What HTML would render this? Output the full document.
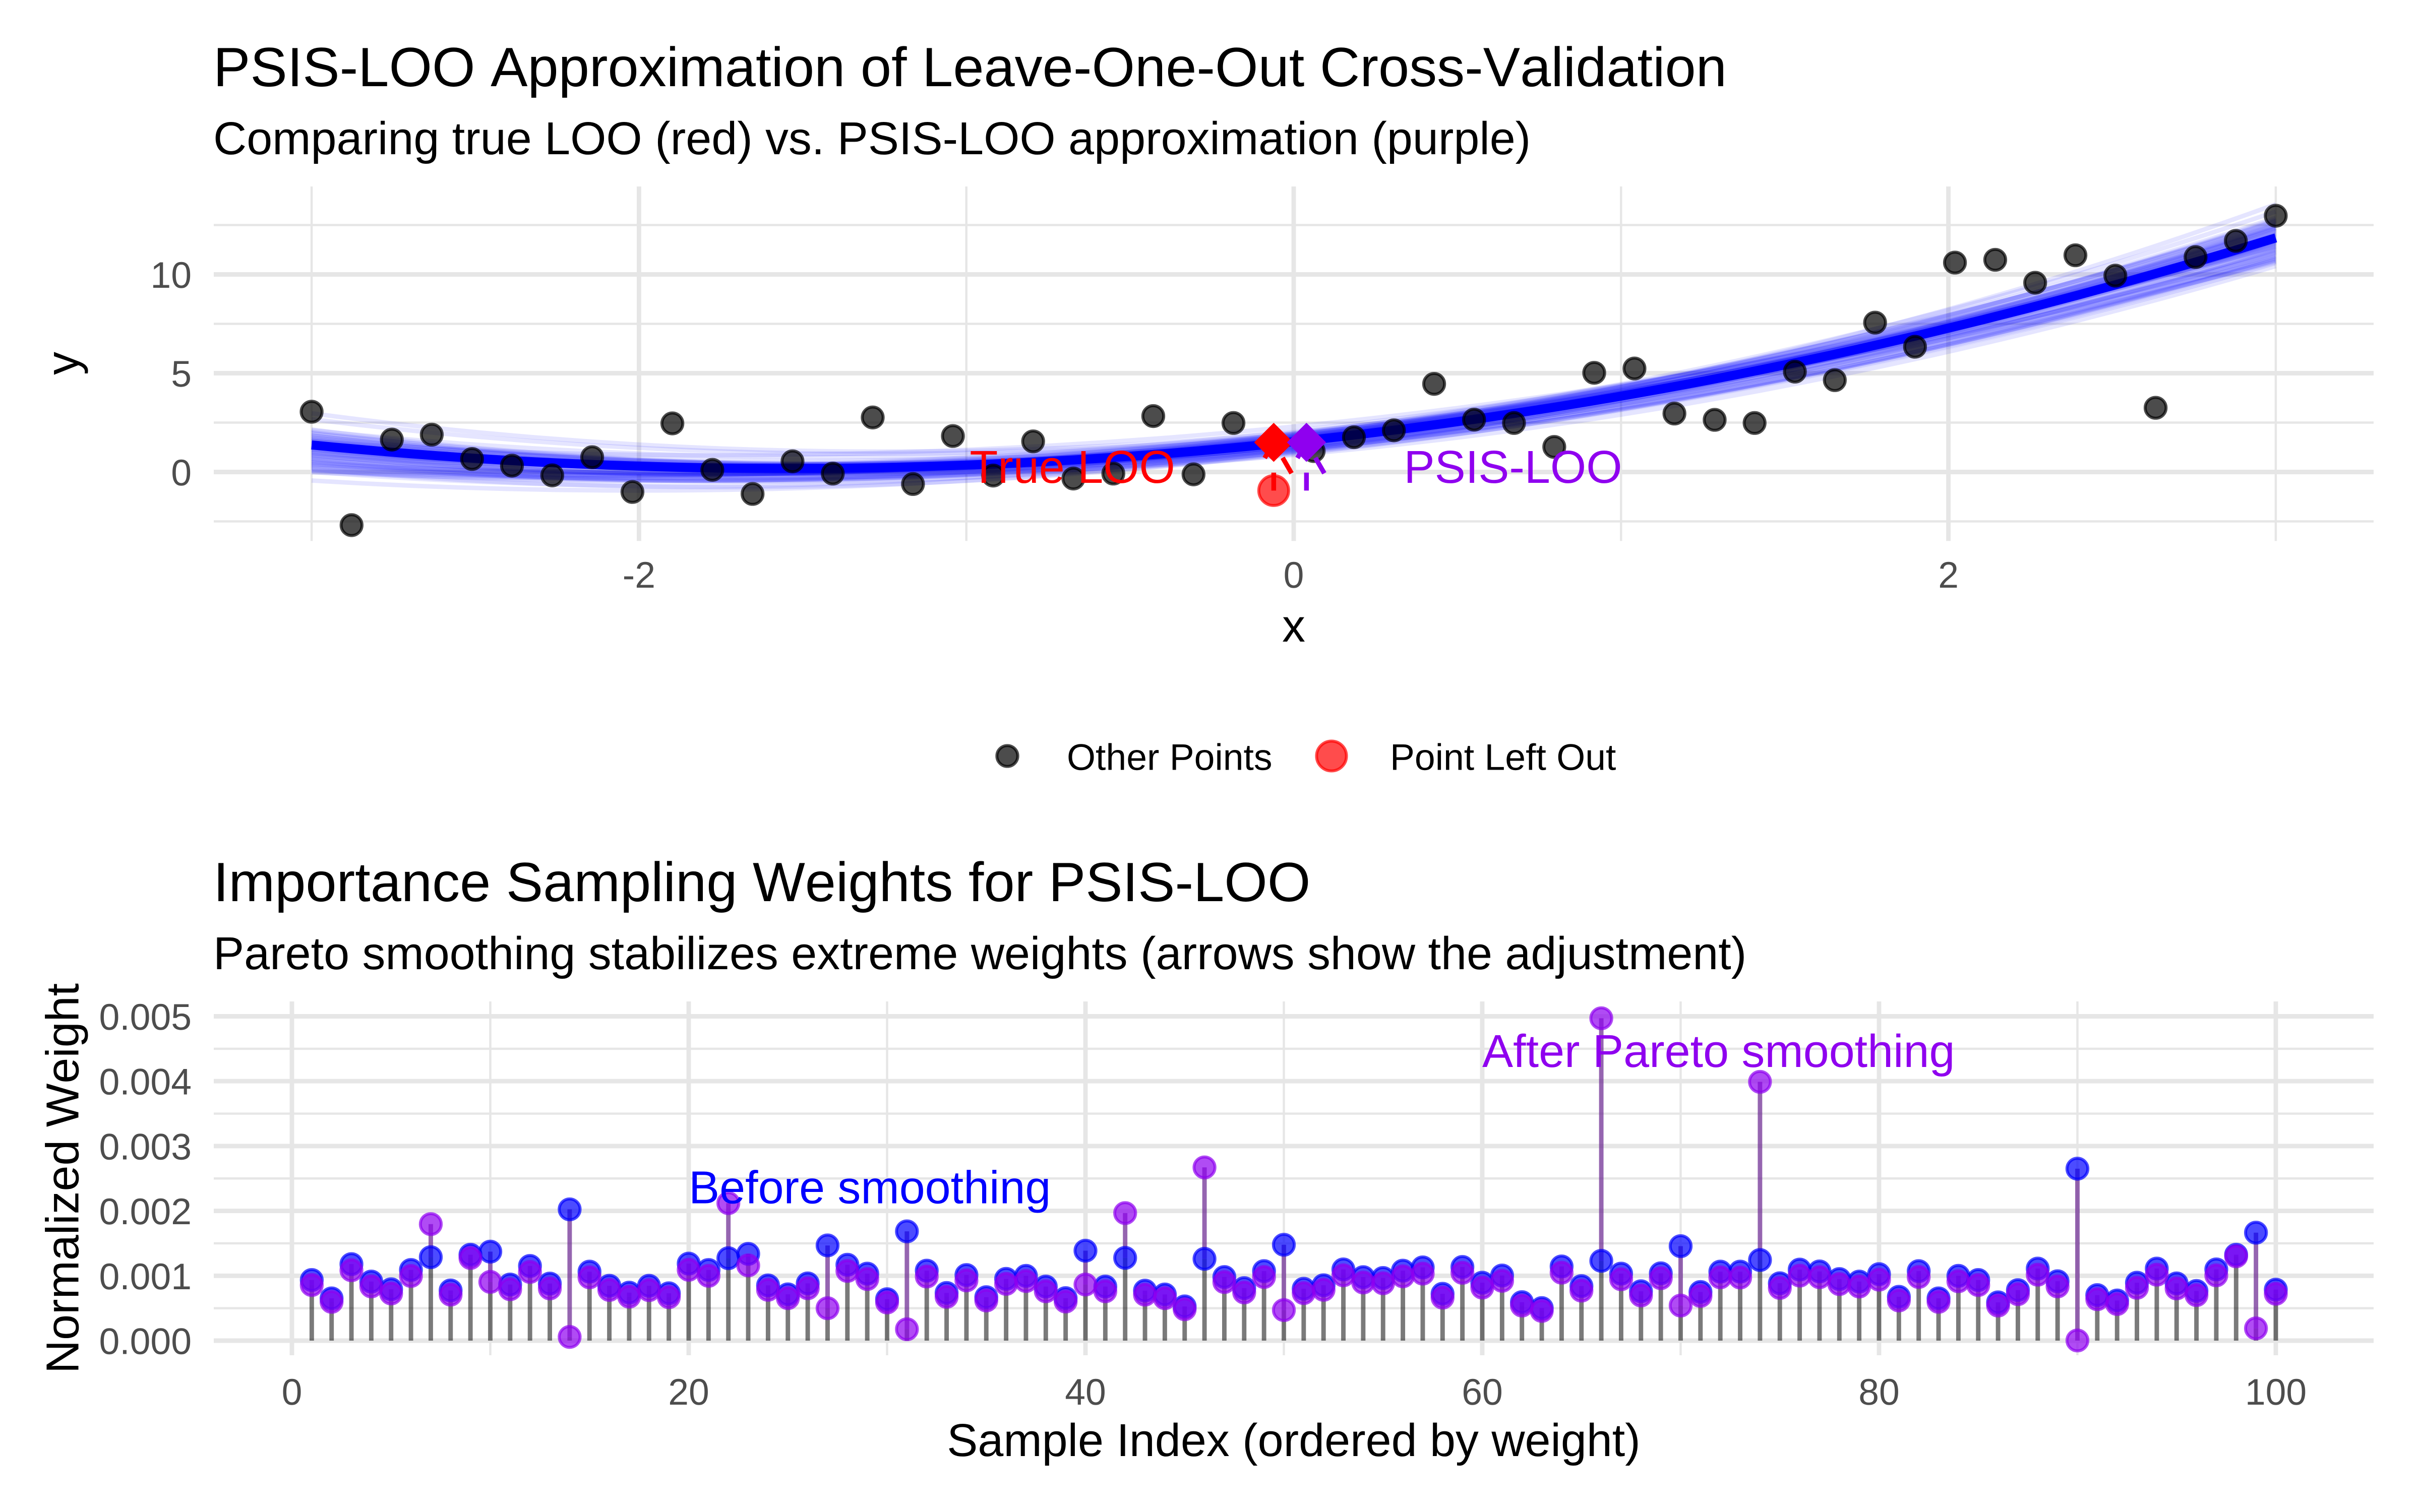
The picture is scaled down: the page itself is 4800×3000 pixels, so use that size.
<!DOCTYPE html>
<html lang="en">
<head>
<meta charset="utf-8">
<title>PSIS-LOO Approximation</title>
<style>
html,body{margin:0;padding:0;background:#fff;}
svg{display:block;}
text{font-family:"Liberation Sans",Arial,sans-serif;font-kerning:none;text-rendering:geometricPrecision;}
</style>
</head>
<body>
<svg id="chart" xmlns="http://www.w3.org/2000/svg" width="4800" height="3000" viewBox="0 0 4800 3000">
  <rect x="0" y="0" width="4800" height="3000" fill="#ffffff"/>
  <g id="top-grid"></g>
  <g id="top-draws"></g>
  <g id="top-fit"></g>
  <g id="top-points"></g>
  <g id="top-marks"></g>
  <g id="top-axes"></g>
  <g id="bot-grid"></g>
  <g id="bot-stems"></g>
  <g id="bot-blue"></g>
  <g id="bot-purple"></g>
  <g id="bot-axes"></g>

  <text x="423" y="171" font-size="110" fill="#000">PSIS-LOO Approximation of Leave-One-Out Cross-Validation</text>
  <text x="423" y="306" font-size="91.67" fill="#000">Comparing true LOO (red) vs. PSIS-LOO approximation (purple)</text>
  <text x="2566" y="1273" font-size="91.67" text-anchor="middle" fill="#000">x</text>
  <text transform="translate(155.6 721) rotate(-90)" font-size="91.67" text-anchor="middle" fill="#000">y</text>

  <g>
    <circle cx="1998" cy="1500" r="20.7" fill="#000" fill-opacity="0.7" stroke="#000" stroke-opacity="0.7" stroke-width="5.9"/>
    <text x="2116" y="1527.6" font-size="73.33" fill="#000">Other Points</text>
    <circle cx="2641" cy="1500" r="29.6" fill="#ff0000" fill-opacity="0.7" stroke="#ff0000" stroke-opacity="0.7" stroke-width="5.9"/>
    <text x="2757" y="1527.6" font-size="73.33" fill="#000">Point Left Out</text>
  </g>

  <text x="423" y="1788" font-size="110" fill="#000">Importance Sampling Weights for PSIS-LOO</text>
  <text x="423" y="1923" font-size="91.67" fill="#000">Pareto smoothing stabilizes extreme weights (arrows show the adjustment)</text>
  <text x="2566" y="2889" font-size="91.67" text-anchor="middle" fill="#000">Sample Index (ordered by weight)</text>
  <text transform="translate(155.6 2338) rotate(-90)" font-size="91.67" text-anchor="middle" fill="#000">Normalized Weight</text>
  <g id="annotations"></g>
</svg>
<script>
// ---- top panel data ----
const pointX = [-3,-2.878,-2.755,-2.633,-2.51,-2.388,-2.265,-2.143,-2.02,-1.898,-1.776,-1.653,-1.531,-1.408,-1.286,-1.163,-1.041,-0.918,-0.796,-0.673,-0.551,-0.429,-0.306,-0.184,-0.061,0.061,0.184,0.306,0.429,0.551,0.673,0.796,0.918,1.041,1.163,1.286,1.408,1.531,1.653,1.776,1.898,2.02,2.143,2.265,2.388,2.51,2.633,2.755,2.878,3];
const pointY = [3.05,-2.69,1.64,1.89,0.66,0.32,-0.17,0.75,-1.01,2.46,0.11,-1.11,0.54,-0.08,2.76,-0.61,1.82,-0.18,1.55,-0.33,-0.08,2.83,-0.12,2.48,-0.94,1.06,1.76,2.11,4.46,2.65,2.48,1.27,5.02,5.24,2.96,2.64,2.48,5.08,4.65,7.56,6.34,10.6,10.74,9.58,10.97,9.94,3.25,10.88,11.7,12.97];
const leftOutIndex = [24];
const fitAnchors = [1.37,1.53,11.85];
const drawLeft = [2.97,2.67,2.15,2.11,2.02,1.96,1.93,1.85,1.84,1.76,1.73,1.71,1.64,1.62,1.57,1.55,1.49,1.47,1.46,1.41,1.39,1.36,1.33,1.31,1.27,1.24,1.21,1.17,1.14,1.13,1.08,1.05,1.01,0.97,0.95,0.89,0.86,0.84,0.78,0.76,0.69,0.66,0.63,0.57,0.55,0.49,0.47,0.41,0.39,0.33,0.31,0.24,0.21,0.15,0.09,0.06,0.01,-0.02,-0.43,1.59];
const drawMid = [2.02,1.93,1.71,1.82,1.24,1.96,1.41,1.68,1.16,1.88,1.52,1.3,1.77,1.09,1.61,2.3,1.44,1.85,1.27,1.58,1.73,1.12,1.66,1.49,1.94,1.35,1.02,1.57,1.79,1.21,1.63,1.46,0.96,1.9,1.38,1.7,1.18,1.54,2.08,1.31,1.6,1.05,1.75,1.42,0.91,1.67,1.28,1.83,1.5,1.14,1.72,1.36,1.59,1.0,1.45,1.86,1.23,1.65,1.08,0.86];
const drawRight = [12.46,12.03,13.55,11.24,10.92,13.18,11.7,12.31,10.83,12.87,11.15,11.52,12.55,10.66,11.96,11.4,12.2,12.72,11.08,11.78,12.39,10.75,12.1,11.33,12.62,11.6,10.58,11.88,12.28,11.19,11.66,12.15,10.88,11.47,12.48,11.02,11.85,12.37,11.73,10.71,12.06,11.28,12.68,11.56,10.95,11.92,12.24,11.37,12.79,11.11,11.62,12.01,10.64,12.33,11.82,11.43,12.52,10.8,11.68,10.42];
const trueLooX = [-0.061];
const psisLooX = [0.039];
const looEstimateY = [1.5];
const topXTicks = [-2,0,2];
const topXTickLabels = ['-2','0','2'];
const topXMinor = [-3,-1,1,3];
const topYTicks = [0,5,10];
const topYTickLabels = ['0','5','10'];
const topYMinor = [-2.5,2.5,7.5,12.5];

// ---- bottom panel data (weights in units of 0.001) ----
const sampleIndex = [1,2,3,4,5,6,7,8,9,10,11,12,13,14,15,16,17,18,19,20,21,22,23,24,25,26,27,28,29,30,31,32,33,34,35,36,37,38,39,40,41,42,43,44,45,46,47,48,49,50,51,52,53,54,55,56,57,58,59,60,61,62,63,64,65,66,67,68,69,70,71,72,73,74,75,76,77,78,79,80,81,82,83,84,85,86,87,88,89,90,91,92,93,94,95,96,97,98,99,100];
const weightBeforeMilli = [0.935,0.652,1.18,0.911,0.792,1.09,1.287,0.774,1.325,1.372,0.865,1.152,0.88,2.024,1.064,0.846,0.74,0.846,0.73,1.188,1.09,1.271,1.338,0.852,0.714,0.883,1.468,1.17,1.033,0.639,1.685,1.079,0.735,1.012,0.67,0.953,0.999,0.834,0.655,1.387,0.834,1.276,0.771,0.712,0.528,1.261,0.981,0.81,1.072,1.478,0.8,0.854,1.098,0.979,0.966,1.079,1.129,0.722,1.136,0.893,1.004,0.593,0.502,1.144,0.841,1.23,1.033,0.761,1.038,1.457,0.751,1.064,1.064,1.243,0.885,1.095,1.067,0.95,0.911,1.025,0.676,1.072,0.652,0.999,0.935,0.59,0.779,1.111,0.916,2.651,0.702,0.619,0.893,1.111,0.883,0.766,1.098,1.325,1.665,0.787];
const weightAfterMilli = [0.857,0.598,1.085,0.836,0.727,0.997,1.797,0.709,1.274,0.906,0.792,1.059,0.805,0.057,0.976,0.782,0.678,0.779,0.67,1.092,0.999,2.12,1.16,0.784,0.655,0.808,0.5,1.074,0.95,0.588,0.176,0.989,0.676,0.929,0.619,0.875,0.919,0.761,0.603,0.865,0.761,1.967,0.709,0.655,0.484,2.671,0.903,0.743,0.981,0.471,0.733,0.784,1.007,0.896,0.885,0.991,1.033,0.663,1.046,0.818,0.922,0.541,0.458,1.048,0.771,4.97,0.947,0.696,0.963,0.541,0.689,0.976,0.973,3.99,0.813,1.002,0.978,0.872,0.834,0.94,0.619,0.981,0.598,0.916,0.857,0.541,0.717,1.017,0.836,0.003,0.639,0.564,0.815,1.017,0.805,0.702,1.007,1.3,0.189,0.722];
const botXTicks = [0,20,40,60,80,100];
const botXTickLabels = ['0','20','40','60','80','100'];
const botXMinor = [10,30,50,70,90];
const botYTicks = [0,1,2,3,4,5];
const botYTickLabels = ['0.000','0.001','0.002','0.003','0.004','0.005'];
const botYMinor = [0.5,1.5,2.5,3.5,4.5];

// ---- axis functions ----
const topX = v => 2566 + v * 649.3;
const topY = v => 936.5 - v * 39.2;
const botX = v => 579 + v * 39.35;
const botY = v => 2660 - v * 128.7;

const PANEL_L = 424, PANEL_R = 4708;
const TOP_T = 370, TOP_B = 1073.4, BOT_T = 1987, BOT_B = 2689;
const MAJOR = 8.9, MINOR = 4.45, GRID = '#e6e6e6';
const PURPLE = '#8f00ef';
const SVGNS = 'http://www.w3.org/2000/svg';

function make(tag, attrs, parent) {
  const el = document.createElementNS(SVGNS, tag);
  for (const k in attrs) el.setAttribute(k, attrs[k]);
  parent.appendChild(el);
  return el;
}
const byId = id => document.getElementById(id);

function gridV(parent, values, fx, width, y1, y2) {
  values.forEach(v => {
    const el = make('line', {x1: fx(v), x2: fx(v), y1: y1, y2: y2, stroke: GRID, 'stroke-width': width}, parent);
    
    
  });
}
function gridH(parent, values, fy, width) {
  values.forEach(v => {
    const el = make('line', {x1: PANEL_L, x2: PANEL_R, y1: fy(v), y2: fy(v), stroke: GRID, 'stroke-width': width}, parent);
    
    
  });
}
function tickLabelsX(parent, values, labels, fx, baseline) {
  values.forEach((v, i) => {
    const el = make('text', {x: fx(v), y: baseline, 'font-size': 73.33, 'text-anchor': 'middle', fill: '#4d4d4d'}, parent);
    
    
    el.textContent = labels[i];
  });
}
function tickLabelsY(parent, values, labels, fy) {
  values.forEach((v, i) => {
    const el = make('text', {x: 380, y: fy(v) + 26.5, 'font-size': 73.33, 'text-anchor': 'end', fill: '#4d4d4d'}, parent);
    
    
    el.textContent = labels[i];
  });
}
// parabola through the values read at x = -3, 0 and 3
function curvePath(left, mid, right) {
  const b = (right - left) / 6;
  const c = ((right + left) / 2 - mid) / 9;
  let d = '';
  for (let k = 0; k <= 80; k++) {
    const x = -3 + 6 * k / 80;
    const y = mid + b * x + c * x * x;
    d += (k ? 'L' : 'M') + topX(x).toFixed(1) + ' ' + topY(y).toFixed(1);
  }
  return d;
}

// ---- top panel ----
gridV(byId('top-grid'), topXMinor, topX, MINOR, TOP_T, TOP_B);
gridH(byId('top-grid'), topYMinor, topY, MINOR);
gridV(byId('top-grid'), topXTicks, topX, MAJOR, TOP_T, TOP_B);
gridH(byId('top-grid'), topYTicks, topY, MAJOR);
tickLabelsX(byId('top-axes'), topXTicks, topXTickLabels, topX, 1166);
tickLabelsY(byId('top-axes'), topYTicks, topYTickLabels, topY);

drawLeft.forEach((left, i) => {
  const el = make('path', {d: curvePath(left, drawMid[i], drawRight[i]), fill: 'none', stroke: '#0000ff', 'stroke-opacity': 0.1, 'stroke-width': 8.9}, byId('top-draws'));
  
  
});

const fitLine = make('path', {d: curvePath(fitAnchors[0], fitAnchors[1], fitAnchors[2]), fill: 'none', stroke: '#0000ff', 'stroke-width': 18}, byId('top-fit'));



pointX.forEach((x, i) => {
  if (leftOutIndex.includes(i)) return;
  const el = make('circle', {cx: topX(x), cy: topY(pointY[i]), r: 20.7, fill: '#000', 'fill-opacity': 0.7, stroke: '#000', 'stroke-opacity': 0.7, 'stroke-width': 5.9}, byId('top-points'));
  
  
});

leftOutIndex.forEach(i => {
  const el = make('circle', {cx: topX(pointX[i]), cy: topY(pointY[i]), r: 29.6, fill: '#ff0000', 'fill-opacity': 0.7, stroke: '#ff0000', 'stroke-opacity': 0.7, 'stroke-width': 5.9}, byId('top-marks'));
  
  
});

function looArrow(xVal, color, name) {
  const px = topX(xVal);
  const from = topY(pointY[leftOutIndex[0]]);
  const to = topY(looEstimateY[0]);
  const g = byId('top-marks');
  const shaft = make('line', {x1: px, y1: from, x2: px, y2: to, stroke: color, 'stroke-width': 9.4, 'stroke-dasharray': '35.6 35.6'}, g);
  
  
  const len = 70.87, dx = len * Math.sin(Math.PI / 6), dy = len * Math.cos(Math.PI / 6);
  const head = make('polyline', {points: (px + dx) + ',' + (to + dy) + ' ' + px + ',' + to + ' ' + (px - dx) + ',' + (to + dy), fill: 'none', stroke: color, 'stroke-width': 9.4, 'stroke-dasharray': '35.6 35.6'}, g);
  
  
}
looArrow(trueLooX[0], '#ff0000', 'true-loo');
looArrow(psisLooX[0], PURPLE, 'psis-loo');

function diamond(xVal, color, name) {
  const cx = topX(xVal), cy = topY(looEstimateY[0]), h = 38.8;
  const el = make('polygon', {points: cx + ',' + (cy - h) + ' ' + (cx + h) + ',' + cy + ' ' + cx + ',' + (cy + h) + ' ' + (cx - h) + ',' + cy, fill: color}, byId('top-marks'));
  
  
}
diamond(trueLooX[0], '#ff0000', 'true-loo-estimate');
diamond(psisLooX[0], PURPLE, 'psis-loo-estimate');

const labelTrue = make('text', {x: topX(-0.676), y: topY(0.27) + 32, 'font-size': 91.67, 'text-anchor': 'middle', fill: '#ff0000'}, byId('annotations'));


labelTrue.textContent = 'True LOO';
const labelPsis = make('text', {x: topX(0.67), y: topY(0.27) + 32, 'font-size': 91.67, 'text-anchor': 'middle', fill: PURPLE}, byId('annotations'));


labelPsis.textContent = 'PSIS-LOO';

// ---- bottom panel ----
gridV(byId('bot-grid'), botXMinor, botX, MINOR, BOT_T, BOT_B);
gridH(byId('bot-grid'), botYMinor, botY, MINOR);
gridV(byId('bot-grid'), botXTicks, botX, MAJOR, BOT_T, BOT_B);
gridH(byId('bot-grid'), botYTicks, botY, MAJOR);
tickLabelsX(byId('bot-axes'), botXTicks, botXTickLabels, botX, 2787);
tickLabelsY(byId('bot-axes'), botYTicks, botYTickLabels, botY);

sampleIndex.forEach((idx, i) => {
  const px = botX(idx);
  const low = Math.min(weightBeforeMilli[i], weightAfterMilli[i]);
  const high = Math.max(weightBeforeMilli[i], weightAfterMilli[i]);
  const base = make('line', {x1: px, x2: px, y1: botY(0), y2: botY(low), stroke: '#000', 'stroke-opacity': 0.52, 'stroke-width': 8.9}, byId('bot-stems'));
  
  
  const adj = make('line', {x1: px, x2: px, y1: botY(low), y2: botY(high), stroke: 'rgb(104,36,142)', 'stroke-opacity': 0.7, 'stroke-width': 8.9}, byId('bot-stems'));
  
  
  const blue = make('circle', {cx: px, cy: botY(weightBeforeMilli[i]), r: 20.7, fill: '#0000ff', 'fill-opacity': 0.7, stroke: '#0000ff', 'stroke-opacity': 0.7, 'stroke-width': 5.9}, byId('bot-blue'));
  
  
  const purple = make('circle', {cx: px, cy: botY(weightAfterMilli[i]), r: 20.7, fill: PURPLE, 'fill-opacity': 0.7, stroke: PURPLE, 'stroke-opacity': 0.7, 'stroke-width': 5.9}, byId('bot-purple'));
  
  
});

const labelBefore = make('text', {x: botX(20), y: botY(2.39) + 35, 'font-size': 91.67, fill: '#0000ff'}, byId('annotations'));


labelBefore.textContent = 'Before smoothing';
const labelAfter = make('text', {x: botX(60), y: botY(4.5) + 36, 'font-size': 91.67, fill: PURPLE}, byId('annotations'));


labelAfter.textContent = 'After Pareto smoothing';
</script>
</body>
</html>
